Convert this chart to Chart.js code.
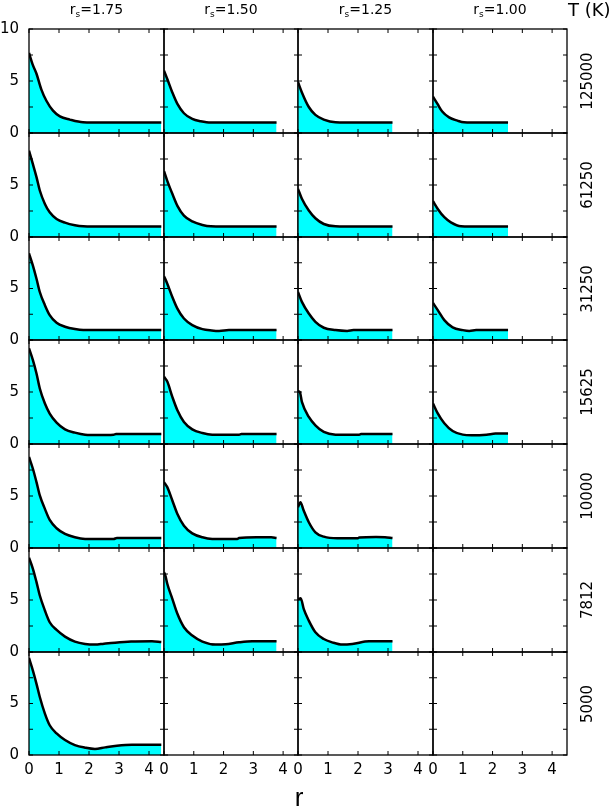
<!DOCTYPE html>
<html>
<head>
<meta charset="utf-8">
<script src="https://cdn.jsdelivr.net/npm/chart.js@4.4.1/dist/chart.umd.min.js"></script>
<style>
  body { margin: 0; background: #fff; width: 610px; height: 810px; position: relative; overflow: hidden; font-family: "DejaVu Sans", sans-serif; }
  canvas { position: absolute; }
  .lbl { position: absolute; color: #000; white-space: nowrap; }
  .lbl sub { font-size: 9px; vertical-align: -3px; }
</style>
</head>
<body>
<script>
// === data ===
const temps = ['125000', '61250', '31250', '15625', '10000', '7812', '5000'];
const radii = ['1.75', '1.50', '1.25', '1.00'];
const xTicks = [0, 1, 2, 3, 4];
const yTicks = [0, 2.5, 5, 7.5, 10];
const yLabels = [0, 5, 10];
const xLabels = [0, 1, 2, 3, 4];

// g(r) as [r, g]
const g125000_175 = [[0,7.7],[0.12,6.6],[0.25,5.7],[0.41,4.2],[0.58,3.1],[0.8,2.15],[1.03,1.6],[1.36,1.29],[1.8,1.03],[2.5,1.0],[3.5,1.0],[4.41,1.0]];
const g125000_150 = [[0,6.0],[0.11,5.2],[0.28,3.9],[0.45,2.8],[0.67,1.9],[0.95,1.35],[1.23,1.13],[1.57,1.0],[2.5,1.0],[3.78,1.0]];
const g125000_125 = [[0,4.9],[0.13,3.9],[0.36,2.5],[0.58,1.74],[0.86,1.29],[1.25,1.03],[2.0,1.0],[3.15,1.0]];
const g125000_100 = [[0,3.5],[0.15,2.8],[0.31,2.06],[0.54,1.5],[0.82,1.19],[1.04,1.03],[1.6,1.0],[2.52,1.0]];

const g61250_175 = [[0,8.3],[0.13,7.0],[0.25,5.76],[0.36,4.47],[0.53,3.18],[0.69,2.38],[0.92,1.74],[1.2,1.38],[1.53,1.13],[1.81,1.03],[2.5,1.0],[3.5,1.0],[4.41,1.0]];
const g61250_150 = [[0,6.33],[0.11,5.4],[0.28,4.15],[0.45,3.0],[0.67,2.06],[0.95,1.5],[1.29,1.16],[1.57,1.03],[2.5,1.0],[3.78,1.0]];
const g61250_125 = [[0,4.63],[0.13,3.67],[0.36,2.54],[0.58,1.8],[0.86,1.25],[1.25,1.03],[2.0,1.0],[3.15,1.0]];
const g61250_100 = [[0,3.44],[0.16,2.7],[0.38,1.9],[0.6,1.41],[0.94,1.03],[1.6,1.0],[2.52,1.0]];

const g31250_175 = [[0,8.42],[0.13,7.23],[0.25,5.95],[0.36,4.66],[0.53,3.38],[0.69,2.41],[0.92,1.67],[1.2,1.29],[1.53,1.06],[1.81,0.97],[2.5,0.97],[3.5,0.97],[4.41,0.97]];
const g31250_150 = [[0,6.2],[0.11,5.47],[0.28,4.18],[0.45,3.05],[0.67,2.09],[0.95,1.45],[1.29,1.06],[1.6,0.93],[1.85,0.88],[2.18,0.96],[3.0,0.97],[3.78,0.97]];
const g31250_125 = [[0,4.66],[0.13,3.7],[0.36,2.57],[0.58,1.77],[0.86,1.19],[1.25,0.96],[1.64,0.88],[1.85,0.96],[2.5,0.96],[3.15,0.96]];
const g31250_100 = [[0,3.6],[0.16,2.9],[0.38,1.93],[0.66,1.22],[1.0,0.96],[1.22,0.88],[1.45,0.96],[2.0,0.96],[2.52,0.96]];

const g15625_175 = [[0,9.2],[0.13,8.07],[0.25,6.78],[0.36,5.34],[0.53,3.89],[0.69,2.93],[0.92,2.06],[1.2,1.41],[1.53,1.09],[1.87,0.9],[2.32,0.87],[2.82,0.9],[2.9,0.96],[3.6,0.97],[4.41,0.97]];
const g15625_150 = [[0,6.46],[0.11,6.0],[0.28,4.53],[0.45,3.25],[0.67,2.12],[0.95,1.41],[1.29,1.06],[1.62,0.9],[2.1,0.89],[2.52,0.9],[2.6,0.96],[3.2,0.97],[3.78,0.97]];
const g15625_125 = [[0,5.08],[0.06,5.0],[0.13,4.05],[0.36,2.6],[0.58,1.8],[0.86,1.16],[1.25,0.9],[1.6,0.89],[2.04,0.9],[2.1,0.96],[2.6,0.97],[3.15,0.97]];
const g15625_100 = [[0,3.9],[0.15,3.0],[0.38,2.0],[0.66,1.25],[1.0,0.9],[1.3,0.85],[1.8,0.9],[2.1,1.0],[2.52,1.0]];

const g10000_175 = [[0,8.75],[0.13,7.62],[0.25,6.33],[0.36,5.05],[0.53,3.76],[0.69,2.7],[0.92,1.9],[1.2,1.35],[1.53,1.03],[1.87,0.87],[2.4,0.86],[2.82,0.87],[2.93,0.96],[3.6,0.97],[4.41,0.97]];
const g10000_150 = [[0,6.33],[0.11,5.85],[0.28,4.57],[0.45,3.28],[0.67,2.15],[0.95,1.41],[1.29,1.03],[1.62,0.87],[2.0,0.86],[2.46,0.87],[2.52,0.96],[3.1,1.03],[3.6,1.03],[3.78,0.97]];
const g10000_125 = [[0,3.92],[0.08,4.4],[0.19,3.6],[0.36,2.48],[0.58,1.51],[0.86,1.09],[1.31,0.93],[1.98,0.93],[2.04,1.0],[2.6,1.06],[2.9,1.03],[3.15,0.96]];

const g7812_175 = [[0,9.07],[0.13,8.0],[0.25,6.72],[0.36,5.43],[0.53,3.99],[0.69,2.86],[0.92,2.12],[1.2,1.48],[1.53,1.0],[1.87,0.77],[2.2,0.71],[2.5,0.8],[2.87,0.9],[3.4,1.0],[4.1,1.03],[4.41,0.95]];
const g7812_150 = [[0,7.68],[0.05,7.3],[0.11,6.56],[0.28,5.11],[0.45,3.67],[0.67,2.38],[0.95,1.58],[1.29,1.0],[1.73,0.71],[2.07,0.74],[2.52,0.93],[2.96,1.03],[3.78,1.03]];
const g7812_125 = [[0,5.05],[0.09,5.18],[0.19,4.15],[0.36,3.02],[0.58,1.9],[0.86,1.25],[1.14,0.93],[1.48,0.71],[1.81,0.77],[2.37,1.03],[3.15,1.03]];

const g5000_175 = [[0,9.42],[0.13,8.2],[0.25,6.91],[0.36,5.63],[0.53,4.02],[0.69,2.89],[0.92,2.09],[1.2,1.45],[1.53,0.96],[1.87,0.71],[2.2,0.58],[2.54,0.74],[2.93,0.9],[3.43,1.0],[4.41,1.0]];

const panels = [
  [g125000_175, g125000_150, g125000_125, g125000_100],
  [g61250_175, g61250_150, g61250_125, g61250_100],
  [g31250_175, g31250_150, g31250_125, g31250_100],
  [g15625_175, g15625_150, g15625_125, g15625_100],
  [g10000_175, g10000_150, g10000_125, null],
  [g7812_175, g7812_150, g7812_125, null],
  [g5000_175, null, null, null]
];

// === layout ===
const colLeft = c => Math.round(29 + c * 134.5);
const rowTop = r => Math.round(29 + r * 103.75);
const pad = { left: 32, right: 3, top: 12, bottom: 28 };

// frame, inward ticks and tick labels
const frame = {
  id: 'frame',
  afterDraw(chart, args, o) {
    const { ctx, chartArea: a, scales: { x, y } } = chart;
    ctx.save();
    ctx.strokeStyle = '#000';
    ctx.lineWidth = 1.3;
    ctx.strokeRect(a.left, a.top, a.right - a.left, a.bottom - a.top);
    ctx.lineWidth = 1;
    ctx.beginPath();
    xTicks.forEach(v => {
      const px = x.getPixelForValue(v);
      ctx.moveTo(px, a.top); ctx.lineTo(px, a.top + 4);
      ctx.moveTo(px, a.bottom); ctx.lineTo(px, a.bottom - 4);
    });
    yTicks.forEach(v => {
      const py = y.getPixelForValue(v);
      ctx.moveTo(a.left, py); ctx.lineTo(a.left + 4, py);
      ctx.moveTo(a.right, py); ctx.lineTo(a.right - 4, py);
    });
    ctx.stroke();
    ctx.fillStyle = '#000';
    ctx.font = '15px "DejaVu Sans"';
    if (o.left) {
      ctx.textAlign = 'right';
      ctx.textBaseline = 'middle';
      yLabels.forEach(v => {
        if (v === 10 && !o.top) return;
        ctx.fillText(String(v), a.left - 10, y.getPixelForValue(v));
      });
    }
    if (o.bottom) {
      ctx.textAlign = 'center';
      ctx.textBaseline = 'middle';
      xLabels.forEach(v => ctx.fillText(String(v), x.getPixelForValue(v), a.bottom + 15));
    }
    ctx.restore();
  }
};

panels.forEach((row, r) => {
  row.forEach((pts, c) => {
    const w = colLeft(c + 1) - colLeft(c);
    const h = rowTop(r + 1) - rowTop(r);
    const cv = document.createElement('canvas');
    cv.width = w + pad.left + pad.right;
    cv.height = h + pad.top + pad.bottom;
    cv.style.left = (colLeft(c) - pad.left) + 'px';
    cv.style.top = (rowTop(r) - pad.top) + 'px';
    document.body.appendChild(cv);
    new Chart(cv, {
      type: 'line',
      data: {
        datasets: pts ? [{
          data: pts.map(p => ({ x: p[0], y: p[1] })),
          fill: 'origin',
          backgroundColor: '#00ffff',
          borderColor: '#000',
          borderWidth: 2.5,
          pointRadius: 0,
          cubicInterpolationMode: 'monotone'
        }] : []
      },
      options: {
        responsive: false,
        animation: false,
        devicePixelRatio: 1,
        events: [],
        layout: { padding: pad },
        plugins: {
          legend: { display: false },
          tooltip: { enabled: false },
          frame: { left: c === 0, top: r === 0, bottom: r === panels.length - 1 }
        },
        scales: {
          x: { type: 'linear', min: 0, max: 4.5, display: false },
          y: { type: 'linear', min: 0, max: 10, display: false }
        }
      },
      plugins: [frame]
    });
  });
});

// === text labels ===
function addLabel(html, css) {
  const d = document.createElement('div');
  d.className = 'lbl';
  d.innerHTML = html;
  Object.assign(d.style, css);
  document.body.appendChild(d);
  return d;
}

radii.forEach((rs, c) => {
  addLabel('r<sub>s</sub>=' + rs, {
    left: colLeft(c) + 'px', width: (colLeft(c + 1) - colLeft(c)) + 'px',
    top: '0px', textAlign: 'center', fontSize: '14px', lineHeight: '18px'
  });
});

temps.forEach((t, r) => {
  const mid = (rowTop(r) + rowTop(r + 1)) / 2;
  addLabel(t, {
    left: '537px', width: '100px', top: (mid - 10) + 'px', height: '20px',
    lineHeight: '20px', textAlign: 'center', fontSize: '15px', transform: 'rotate(-90deg)'
  });
});

addLabel('T (K)', { left: '568px', top: '-1px', fontSize: '18px', lineHeight: '22px' });
addLabel('r', { left: '249px', width: '100px', top: '782px', textAlign: 'center',
  fontSize: '26px', lineHeight: '30px', fontFamily: '"Liberation Sans", sans-serif' });
</script>
</body>
</html>
